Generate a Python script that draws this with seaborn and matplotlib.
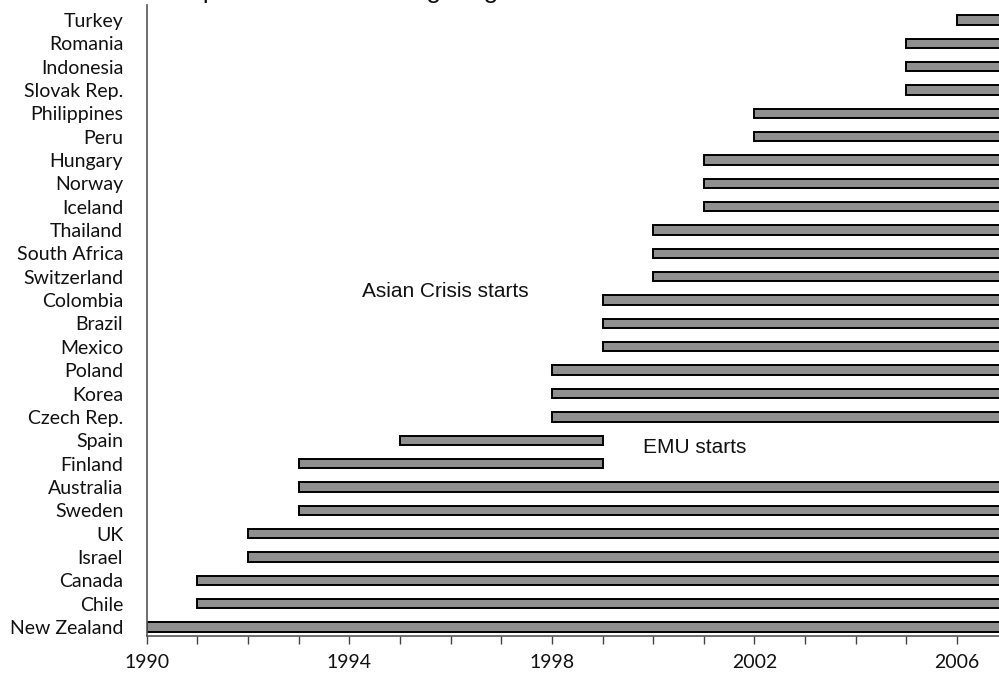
import numpy as np
import matplotlib
matplotlib.use('Agg')
import matplotlib.pyplot as plt
from matplotlib.ticker import FixedLocator, MultipleLocator
import seaborn as sns

sns.set_theme(style='white')
plt.rcParams['font.family'] = ['Lato', 'DejaVu Sans']

# Inflation targeting adoption (bottom to top)
countries = ['New Zealand', 'Chile', 'Canada', 'Israel', 'UK', 'Sweden',
             'Australia', 'Finland', 'Spain', 'Czech Rep.', 'Korea', 'Poland',
             'Mexico', 'Brazil', 'Colombia', 'Switzerland', 'South Africa',
             'Thailand', 'Iceland', 'Norway', 'Hungary', 'Peru', 'Philippines',
             'Slovak Rep.', 'Indonesia', 'Romania', 'Turkey']
start_year = [1990, 1991, 1991, 1992, 1992, 1993,
              1993, 1993, 1995, 1998, 1998, 1998,
              1999, 1999, 1999, 2000, 2000,
              2000, 2001, 2001, 2001, 2002, 2002,
              2005, 2005, 2005, 2006]
# 2007 = still in place at end of sample
end_year = [2007, 2007, 2007, 2007, 2007, 2007,
            2007, 1999, 1999, 2007, 2007, 2007,
            2007, 2007, 2007, 2007, 2007,
            2007, 2007, 2007, 2007, 2007, 2007,
            2007, 2007, 2007, 2007]
year_ticks = [1990, 1994, 1998, 2002, 2006]
notes = ['Asian Crisis starts', 'EMU starts']
note_x = [1994.25, 1999.8]
note_y = [14.35, 7.7]

start = np.array(start_year)
dur = np.array(end_year) - start

fig = plt.figure(figsize=(9.99, 6.77), dpi=100)
ax = fig.add_axes([0.147, 0.0606, 0.853, 0.932])

ax.barh(countries, dur, left=start, height=0.4, color='#8f8f8f',
        edgecolor='black', linewidth=1.4)

ax.set_xlim(1990, 2006.83)
ax.set_ylim(-0.385, 26.64)
ax.xaxis.set_major_locator(FixedLocator(year_ticks))
ax.xaxis.set_minor_locator(MultipleLocator(1))
ax.tick_params(axis='x', which='both', bottom=True, direction='out',
               length=6, width=1, color='#444444', labelsize=14, pad=7)
ax.tick_params(axis='y', left=False, labelsize=14, pad=11)
for lab in ax.get_yticklabels() + ax.get_xticklabels():
    lab.set_color('#111111')

sns.despine(ax=ax, top=True, right=True)
for s in ('left', 'bottom'):
    ax.spines[s].set_color('#555555')
    ax.spines[s].set_linewidth(1.2)
ax.grid(False)

for t, x, y in zip(notes, note_x, note_y):
    ax.text(x, y, t, fontsize=15, family=['Liberation Sans'],
            va='center', ha='left', color='#111111')

# title sits just above the visible canvas, only descenders show
fig.text(0.156, 1.0 + 2 / 677, 'Adoption of inflation targeting',
         fontsize=19, family=['Liberation Sans'], va='baseline', ha='left',
         color='#111111')

fig.savefig('out.png', dpi=100)
